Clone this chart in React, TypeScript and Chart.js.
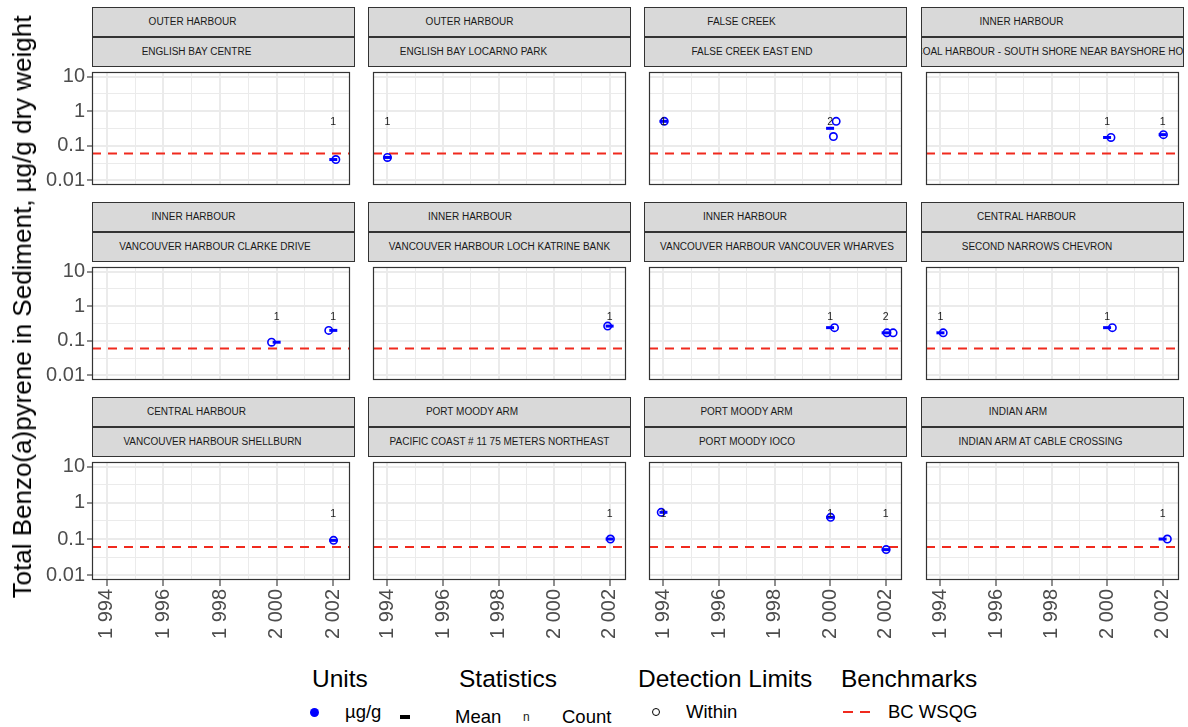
import React, { useEffect, useRef } from 'react';
import { Chart, registerables } from 'chart.js';

Chart.register(...registerables);

// ---------------- DATA ----------------
const REGIONS = [
  'OUTER HARBOUR', 'OUTER HARBOUR', 'FALSE CREEK', 'INNER HARBOUR',
  'INNER HARBOUR', 'INNER HARBOUR', 'INNER HARBOUR', 'CENTRAL HARBOUR',
  'CENTRAL HARBOUR', 'PORT MOODY ARM', 'PORT MOODY ARM', 'INDIAN ARM',
];
const SITES = [
  'ENGLISH BAY CENTRE', 'ENGLISH BAY LOCARNO PARK', 'FALSE CREEK EAST END',
  'COAL HARBOUR - SOUTH SHORE NEAR BAYSHORE HOTEL',
  'VANCOUVER HARBOUR CLARKE DRIVE', 'VANCOUVER HARBOUR LOCH KATRINE BANK',
  'VANCOUVER HARBOUR VANCOUVER WHARVES', 'SECOND NARROWS CHEVRON',
  'VANCOUVER HARBOUR SHELLBURN', 'PACIFIC COAST # 11 75 METERS NORTHEAST',
  'PORT MOODY IOCO', 'INDIAN ARM AT CABLE CROSSING',
];
// individual samples (x = sampling year, slightly jittered as in the plot)
const SAMPLE_X = [
  [2002.09], [1994.0], [1994.03, 2000.22, 2000.12], [2000.14, 2002.03],
  [1999.82, 2001.84], [2001.93], [2000.16, 2002.05, 2002.27], [1994.1, 2000.19],
  [2002.01], [2002.03], [1993.92, 2000.02, 2002.02], [2002.17],
];
const SAMPLE_Y = [
  [0.04], [0.046], [0.51, 0.51, 0.185], [0.174, 0.21],
  [0.091, 0.2], [0.266], [0.24, 0.17, 0.17], [0.17, 0.24],
  [0.092], [0.1], [0.55, 0.4, 0.051], [0.1],
];
// yearly means
const MEAN_X = [
  [2002], [1994], [1994, 2000], [2000, 2002],
  [2000, 2002], [2002], [2000, 2002], [1994, 2000],
  [2002], [2002], [1994, 2000, 2002], [2002],
];
const MEAN_Y = [
  [0.04], [0.046], [0.51, 0.32], [0.174, 0.21],
  [0.091, 0.2], [0.266], [0.24, 0.17], [0.17, 0.24],
  [0.092], [0.1], [0.55, 0.4, 0.051], [0.1],
];
const COUNT_N = [
  [1], [1], [1, 2], [1, 1],
  [1, 1], [1], [1, 2], [1, 1],
  [1], [1], [1, 1, 1], [1],
];
const COUNT_Y = 0.5;
const BENCHMARK = 0.06;

const X_TICKS = [1994, 1995, 1996, 1997, 1998, 1999, 2000, 2001, 2002];
const X_TICK_LABELS = ['1 994', '', '1 996', '', '1 998', '', '2 000', '', '2 002'];
const Y_TICKS = [0.01, 0.0316228, 0.1, 0.316228, 1, 3.16228, 10];
const Y_TICK_LABELS = ['0.01', '', '0.1', '', '1', '', '10'];
const X_MIN = 1993.48;
const X_MAX = 2002.59;
const Y_MIN = 0.007345;
const Y_MAX = 13.61;

const Y_TITLE = 'Total Benzo(a)pyrene in Sediment, µg/g dry weight';

// ---------------- LAYOUT / STYLE ----------------
const FONT = "'Liberation Sans', Arial, Helvetica, sans-serif";
const BLUE = '#0000ff';
const RED = '#f02a1e';
const GRID = '#ebebeb';
const DARK = '#333333';
const AXIS_TEXT = '#4d4d4d';

const PL = [92, 368, 644, 921];
const PT = [67, 262, 457];
const PW = 263;
const PH = 123;
const STRIP_H = 30;
// horizontal offsets of strip texts from strip centre [top, bottom]
const STRIP_OFF = [
  [-31, -27], [-30, -26], [-34, -23.5], [-31, 6],
  [-30, -8.5], [-29.5, 0], [-30.5, 1.5], [-26, -15.5],
  [-27, -11], [-27.5, 0], [-29, -28.5], [-34.5, -12],
];

function idxOf(arr: number[], v: number) {
  for (let k = 0; k < arr.length; k++) {
    if (Math.abs(arr[k] - v) <= 1e-6 * Math.abs(arr[k])) return k;
  }
  return -1;
}

function Panel({ i }: { i: number }) {
  const ref = useRef<HTMLCanvasElement | null>(null);
  const r = Math.floor(i / 4);
  const c = i % 4;
  const yW = c === 0 ? 62 : 0;
  const xH = r === 2 ? 72 : 0;
  const pad = 2;

  useEffect(() => {
    if (!ref.current) return;
    const panelPlugin = {
      id: 'panelDecor',
      afterDatasetsDraw(chart: any) {
        const { ctx, chartArea: a, scales } = chart;
        ctx.save();
        ctx.font = `10.5px ${FONT}`;
        ctx.fillStyle = '#1a1a1a';
        ctx.textAlign = 'center';
        ctx.textBaseline = 'middle';
        MEAN_X[i].forEach((yr, k) => {
          ctx.fillText(String(COUNT_N[i][k]), scales.x.getPixelForValue(yr), scales.y.getPixelForValue(COUNT_Y));
        });
        ctx.strokeStyle = DARK;
        ctx.lineWidth = 1.2;
        ctx.strokeRect(a.left + 0.5, a.top + 0.5, a.width - 1, a.height - 1);
        ctx.restore();
      },
    };

    const isMajorX = (v: any) => {
      const k = v == null ? -1 : idxOf(X_TICKS, v);
      return k >= 0 && X_TICK_LABELS[k] !== '';
    };
    const isMajorY = (v: any) => {
      const k = v == null ? -1 : idxOf(Y_TICKS, v);
      return k >= 0 && Y_TICK_LABELS[k] !== '';
    };

    const chart = new Chart(ref.current, {
      type: 'scatter',
      data: {
        datasets: [
          {
            label: 'Mean',
            data: MEAN_X[i].map((x, k) => ({ x, y: MEAN_Y[i][k] })),
            pointStyle: 'line',
            pointRadius: 4,
            borderColor: BLUE,
            backgroundColor: BLUE,
            borderWidth: 3,
            order: 0,
          } as any,
          {
            label: 'Samples',
            data: SAMPLE_X[i].map((x, k) => ({ x, y: SAMPLE_Y[i][k] })),
            pointStyle: 'circle',
            pointRadius: 3.7,
            borderColor: BLUE,
            backgroundColor: 'rgba(0,0,0,0)',
            borderWidth: 1.6,
            order: 1,
          },
          {
            label: 'BC WSQG',
            data: [{ x: X_MIN, y: BENCHMARK }, { x: X_MAX, y: BENCHMARK }],
            showLine: true,
            borderColor: RED,
            borderWidth: 2,
            borderDash: [9, 7],
            pointRadius: 0,
            order: 2,
          },
        ],
      },
      options: {
        animation: false,
        responsive: false,
        events: [],
        layout: { padding: pad },
        plugins: { legend: { display: false }, tooltip: { enabled: false } },
        scales: {
          x: {
            type: 'linear',
            min: X_MIN,
            max: X_MAX,
            afterBuildTicks: (s: any) => { s.ticks = X_TICKS.map((v) => ({ value: v })); },
            afterFit: (s: any) => {
              s.height = xH; s.paddingLeft = 0; s.paddingRight = 0; s.paddingTop = 0; s.paddingBottom = 0;
            },
            border: { display: false },
            grid: {
              color: GRID,
              lineWidth: (ctx: any) => (isMajorX(ctx.tick && ctx.tick.value) ? 2 : 1),
              drawTicks: r === 2,
              tickLength: 6,
              tickWidth: 1.1,
              tickColor: (ctx: any) => (isMajorX(ctx.tick && ctx.tick.value) ? DARK : 'rgba(0,0,0,0)'),
            },
            ticks: {
              display: r === 2,
              autoSkip: false,
              minRotation: 90,
              maxRotation: 90,
              padding: 3,
              color: AXIS_TEXT,
              font: { family: FONT, size: 20 },
              callback: (v: any) => {
                const k = idxOf(X_TICKS, Number(v));
                return k >= 0 ? X_TICK_LABELS[k] : '';
              },
            },
          },
          y: {
            type: 'logarithmic',
            min: Y_MIN,
            max: Y_MAX,
            afterBuildTicks: (s: any) => { s.ticks = Y_TICKS.map((v) => ({ value: v })); },
            afterFit: (s: any) => {
              s.width = yW; s.paddingLeft = 0; s.paddingRight = 0; s.paddingTop = 0; s.paddingBottom = 0;
            },
            border: { display: false },
            grid: {
              color: GRID,
              lineWidth: (ctx: any) => (isMajorY(ctx.tick && ctx.tick.value) ? 2 : 1),
              drawTicks: c === 0,
              tickLength: 5,
              tickWidth: 1.1,
              tickColor: (ctx: any) => (isMajorY(ctx.tick && ctx.tick.value) ? DARK : 'rgba(0,0,0,0)'),
            },
            ticks: {
              display: c === 0,
              autoSkip: false,
              padding: 2,
              color: AXIS_TEXT,
              font: { family: FONT, size: 20 },
              callback: (v: any) => {
                const k = idxOf(Y_TICKS, Number(v));
                return k >= 0 ? Y_TICK_LABELS[k] : '';
              },
            },
          },
        },
      } as any,
      plugins: [panelPlugin],
    });
    return () => chart.destroy();
  }, []);

  return (
    <canvas
      ref={ref}
      width={PW + yW + 2 * pad}
      height={PH + xH + 2 * pad}
      style={{ position: 'absolute', left: PL[c] - yW - pad, top: PT[r] - pad }}
    />
  );
}

function Strip({ left, top, text, off }: { left: number; top: number; text: string; off: number }) {
  return (
    <div
      style={{
        position: 'absolute', left, top, width: PW, height: STRIP_H, boxSizing: 'border-box',
        background: '#d9d9d9', border: `1px solid ${DARK}`, overflow: 'hidden',
      }}
    >
      <span
        style={{
          position: 'absolute', left: `calc(50% + ${off}px)`, top: 0, transform: 'translateX(-50%)',
          whiteSpace: 'nowrap', fontSize: 10, lineHeight: '27px', color: '#1a1a1a', fontFamily: FONT,
        }}
      >
        {text}
      </span>
    </div>
  );
}

function Txt({ x, y, size, children, color = '#000' }: any) {
  return (
    <div
      style={{
        position: 'absolute', left: x, top: y, fontSize: size, lineHeight: 1, whiteSpace: 'nowrap',
        color, fontFamily: FONT,
      }}
    >
      {children}
    </div>
  );
}

export default function App() {
  useEffect(() => {
    document.body.style.margin = '0';
  }, []);
  const panels = REGIONS.map((_, i) => i);
  return (
    <div
      style={{
        position: 'absolute', left: 0, top: 0, width: 1188, height: 727, background: '#fff',
        overflow: 'hidden', fontFamily: FONT,
      }}
    >
      {panels.map((i) => {
        const r = Math.floor(i / 4);
        const c = i % 4;
        return (
          <React.Fragment key={i}>
            <Strip left={PL[c]} top={PT[r] - 2 * STRIP_H} text={REGIONS[i]} off={STRIP_OFF[i][0]} />
            <Strip left={PL[c]} top={PT[r] - STRIP_H} text={SITES[i]} off={STRIP_OFF[i][1]} />
            <Panel i={i} />
          </React.Fragment>
        );
      })}

      {/* y axis title */}
      <div
        style={{
          position: 'absolute', left: 22, top: 307, transform: 'translate(-50%, -50%) rotate(-90deg)',
          whiteSpace: 'nowrap', fontSize: 26, lineHeight: 1, color: '#000', fontFamily: FONT,
        }}
      >
        {Y_TITLE}
      </div>

      {/* legend */}
      <Txt x={312} y={667} size={24.5}>Units</Txt>
      <Txt x={459} y={667} size={24.5}>Statistics</Txt>
      <Txt x={638} y={667} size={24.5}>Detection Limits</Txt>
      <Txt x={841} y={667} size={24.5}>Benchmarks</Txt>

      <div style={{ position: 'absolute', left: 309.5, top: 707.5, width: 9, height: 9, borderRadius: '50%', background: BLUE }} />
      <Txt x={345} y={702.5} size={18.5}>µg/g</Txt>

      <div style={{ position: 'absolute', left: 400, top: 715, width: 10, height: 3.5, background: '#000' }} />
      <Txt x={455} y={707.5} size={18.5}>Mean</Txt>
      <Txt x={523} y={711} size={12} color="#1a1a1a">n</Txt>
      <Txt x={562} y={707.5} size={18.5}>Count</Txt>

      <div style={{ position: 'absolute', left: 652, top: 708, width: 8, height: 8, boxSizing: 'border-box', borderRadius: '50%', border: '1.2px solid #000' }} />
      <Txt x={686} y={702.5} size={18.5}>Within</Txt>

      <div style={{ position: 'absolute', left: 843, top: 711, width: 10, height: 2, background: RED }} />
      <div style={{ position: 'absolute', left: 860, top: 711, width: 10, height: 2, background: RED }} />
      <Txt x={888} y={702.5} size={18.5}>BC WSQG</Txt>
    </div>
  );
}
